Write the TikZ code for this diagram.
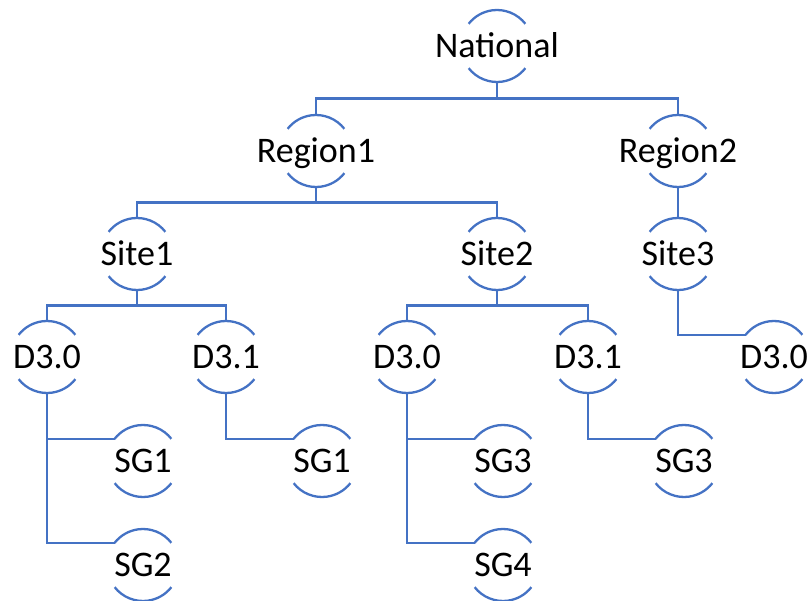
\documentclass[tikz,border=0pt]{standalone}
\usepackage{fontspec}
\setmainfont{Carlito}
\usetikzlibrary{calc}
\definecolor{lnblue}{HTML}{4472C4}
\begin{document}
\begin{tikzpicture}[x=1pt,y=1pt,
  nd/.style={inner sep=0pt, text height=23pt, text depth=0pt, text=black,
             font=\fontsize{36}{40}\selectfont},
  ln/.style={draw=lnblue, line width=2.3pt},
  arcln/.style={draw=lnblue, line width=2.3pt}]
\useasboundingbox (0,0) rectangle (807,-601);
% nodes
\node[nd] (nat) at (497,-46) {National};
\node[nd] (r1) at (316,-151) {Region1};
\node[nd] (r2) at (678,-151) {Region2};
\node[nd] (s1) at (137,-254) {Site1};
\node[nd] (s2) at (497,-254) {Site2};
\node[nd] (s3) at (678,-254) {Site3};
\node[nd] (d1) at (47,-357) {D3.0};
\node[nd] (d2) at (226,-357) {D3.1};
\node[nd] (d3) at (407,-357) {D3.0};
\node[nd] (d4) at (588,-357) {D3.1};
\node[nd] (d5) at (774,-357) {D3.0};
\node[nd] (g1) at (143,-461) {SG1};
\node[nd] (g2) at (143,-565) {SG2};
\node[nd] (g3) at (322,-461) {SG1};
\node[nd] (g4) at (503,-461) {SG3};
\node[nd] (g5) at (503,-565) {SG4};
\node[nd] (g6) at (684,-461) {SG3};
% arcs and anchor coordinates
\foreach \n in {nat,r1,r2,s1,s2,s3,d1,d2,d3,d4,d5,g1,g2,g3,g4,g5,g6}{
  \draw[arcln] (\n.center) ++(38:36pt) arc[start angle=38,end angle=142,radius=36pt];
  \draw[arcln] (\n.center) ++(218:36pt) arc[start angle=218,end angle=322,radius=36pt];
  \coordinate (\n-t) at ([yshift=36pt]\n.center);
  \coordinate (\n-b) at ([yshift=-36pt]\n.center);
  \coordinate (\n-l) at ($(\n.center)+(142:36pt)$);
}
% connectors
\draw[ln] (nat-b) |- ($(nat-b)!0.5!(r1-t)$) -| (r1-t);
\draw[ln] (nat-b) |- ($(nat-b)!0.5!(r2-t)$) -| (r2-t);
\draw[ln] (r1-b) |- ($(r1-b)!0.5!(s1-t)$) -| (s1-t);
\draw[ln] (r1-b) |- ($(r1-b)!0.5!(s2-t)$) -| (s2-t);
\draw[ln] (r2-b) -- (s3-t);
\draw[ln] (s1-b) |- ($(s1-b)!0.5!(d1-t)$) -| (d1-t);
\draw[ln] (s1-b) |- ($(s1-b)!0.5!(d2-t)$) -| (d2-t);
\draw[ln] (s2-b) |- ($(s2-b)!0.5!(d3-t)$) -| (d3-t);
\draw[ln] (s2-b) |- ($(s2-b)!0.5!(d4-t)$) -| (d4-t);
\draw[ln] (s3-b) |- (d5-l);
\draw[ln] (d1-b) |- (g1-l);
\draw[ln] (d1-b) |- (g2-l);
\draw[ln] (d2-b) |- (g3-l);
\draw[ln] (d3-b) |- (g4-l);
\draw[ln] (d3-b) |- (g5-l);
\draw[ln] (d4-b) |- (g6-l);
\end{tikzpicture}
\end{document}
